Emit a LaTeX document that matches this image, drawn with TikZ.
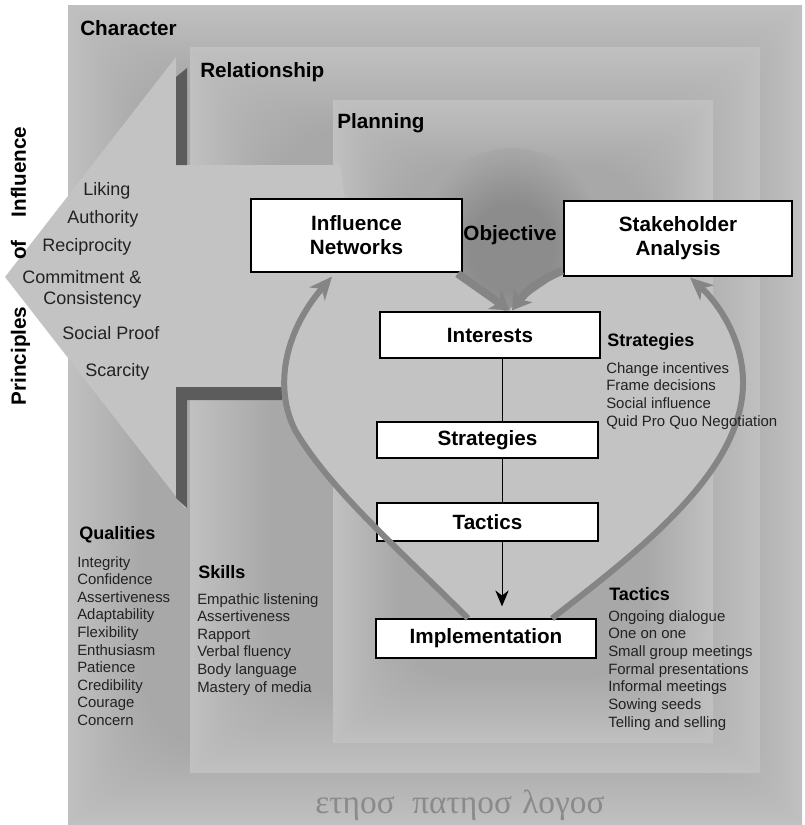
\documentclass[tikz,border=0pt]{standalone}
\usepackage{fontspec}
\setmainfont{Liberation Sans}
\newfontfamily\greekfont{Liberation Serif}
\usetikzlibrary{arrows.meta,calc}
\definecolor{clight}{HTML}{C0C0C0}
\definecolor{cdark}{HTML}{A8A8A8}
\definecolor{carrowreg}{HTML}{C3C3C3}
\definecolor{cobj}{HTML}{8C8C8C}
\definecolor{cflow}{HTML}{858585}
\definecolor{chatch}{HTML}{5C5C5C}
\definecolor{ctext}{HTML}{222222}
\definecolor{cgreek}{HTML}{8A8A8A}
\pgfdeclareradialshading{objshade}{\pgfpoint{0bp}{0bp}}{color(0bp)=(cobj); color(11bp)=(cobj); color(25bp)=(cdark); color(50bp)=(cdark)}
\newcommand{\glowpanel}[5]{%
 \foreach \k in {0,...,24}{%
   \pgfmathsetmacro{\ins}{#5*\k/24}%
   \pgfmathsetmacro{\pc}{100-100*\k/24}%
   \pgfmathsetmacro{\rad}{max(0.01,0.75*\ins)}%
   \fill[clight!\pc!cdark, rounded corners=\rad pt] ({#1+\ins},{#2+\ins}) rectangle ({#3-\ins},{#4-\ins});
 }%
}
\begin{document}
\begin{tikzpicture}[x=0.75pt,y=-0.75pt,
  lbl/.style={anchor=base west,inner sep=0pt,font=\bfseries\fontsize{15.5}{18}\selectfont,text=black},
  prin/.style={anchor=base west,inner sep=0pt,font=\fontsize{13.5}{16}\selectfont,text=ctext},
  side/.style={anchor=base,rotate=90,inner sep=0pt,font=\bfseries\fontsize{15.5}{18}\selectfont,text=black},
  head/.style={anchor=base west,inner sep=0pt,font=\bfseries\fontsize{13.5}{16}\selectfont,text=black},
  item/.style={anchor=base west,inner sep=0pt,font=\fontsize{11.2}{13.4}\selectfont,text=ctext},
  box/.style={draw=black,fill=white,line width=0.9pt,inner sep=0pt,align=center,font=\bfseries\fontsize{15.5}{18}\selectfont},
  conn/.style={line width=0.75pt,draw=black},
  flow/.style={draw=cflow,line width=4.5pt,-{Stealth[length=17pt,width=15pt,inset=5pt]}},
  flowthick/.style={draw=cflow,line width=6pt,-{Stealth[length=14pt,width=17pt,inset=4pt]}},
  bar/.style={fill=chatch},
  greek/.style={anchor=base west,inner sep=0pt,font=\greekfont\fontsize{25}{30}\selectfont,text=cgreek}
]
\useasboundingbox (0,0) rectangle (804,825);
\fill[white] (0,0) rectangle (804,825);
% panels
\glowpanel{68}{5}{802}{825}{75}
\glowpanel{190}{47}{760}{773}{80}
\glowpanel{333}{100}{713}{743}{65}
% objective dark region
\shade[shading=objshade] (512,248) ellipse [x radius=95, y radius=100];
% light region: principles arrow and heart interior
\fill[carrowreg] (5,277) -- (176,57) -- (176,165) -- (340,165) -- (345,199) -- (460,199) -- (460,272) -- (505,312) -- (566,270) -- (690,277)
  .. controls (715,300) and (742,335) .. (743,380)
  .. controls (745,470) and (640,550) .. (552,619)
  -- (468,619) .. controls (400,550) and (330,490) .. (295,430)
  .. controls (290,420) and (286,410) .. (285,398)
  -- (187,398) -- (187,508) -- (185,508) -- cycle;
% hatched bars
\fill[bar] (176,77) -- (187,68) -- (187,165) -- (176,165) -- cycle;
\fill[bar] (176,387) -- (282,387) -- (282,400) -- (187,400) -- (187,508) -- (176,498) -- cycle;
% panel titles
\node[lbl] (tchar) at (80,35) {Character};
\node[lbl] (trel) at (200,77) {Relationship};
\node[lbl] (tplan) at (337,128) {Planning};
% principles
\node[side] (pw1) at (26,356) {Principles};
\node[side] (pw2) at (26,250) {of};
\node[side] (pw3) at (26,172) {Influence};
\node[prin] (p1) at (83,195) {Liking};
\node[prin] (p2) at (67,223) {Authority};
\node[prin] (p3) at (42,251) {Reciprocity};
\node[prin] (p4) at (22,283) {Commitment \&};
\node[prin] (p5) at (43,304) {Consistency};
\node[prin] (p6) at (62,339) {Social Proof};
\node[prin] (p7) at (85,376) {Scarcity};
% boxes
\node[box,minimum width=158.25pt,minimum height=54.75pt] (infl) at (356.5,235.5) {Influence\\Networks};
\node[box,minimum width=171pt,minimum height=56.25pt] (stake) at (678,238.5) {Stakeholder\\Analysis};
\node[box,minimum width=165pt,minimum height=34.5pt] (interest) at (490,335) {Interests};
\node[box,minimum width=165.75pt,minimum height=27pt] (strat) at (487.5,440) {Strategies};
\node[box,minimum width=165.75pt,minimum height=28.5pt] (tact) at (487.5,522) {Tactics};
\node[box,minimum width=165pt,minimum height=29.25pt] (impl) at (486,638.5) {Implementation};
\node[anchor=base,inner sep=0pt,font=\bfseries\fontsize{15.5}{18}\selectfont] (obj) at (510,240) {Objective};
% connectors
\coordinate (axis) at (502,0);
\draw[conn] (interest.south -| axis) -- (strat.north -| axis);
\draw[conn] (strat.south -| axis) -- (tact.north -| axis);
\draw[conn,-{Stealth[length=12pt,width=10pt]},shorten >=9pt] (tact.south -| axis) -- (impl.north -| axis);
% thick arrows to interests
\draw[flowthick] ($(infl.south east)+(-5,1)$) -- ($(interest.north)+(20,-1)$);
\draw[flowthick] ($(stake.south west)+(-1,-6)$) to[bend right=15] ($(interest.north)+(22,-1)$);
% heart curves
\draw[flow] ($(impl.north)+(-18,0)$) .. controls (400,550) and (330,490) .. (295,430) .. controls (275,390) and (282,335) .. ($(infl.south)+(-24.5,4)$);
\draw[flow] ($(impl.north)+(66,0)$) .. controls (640,550) and (745,470) .. (743,380) .. controls (742,335) and (715,300) .. ($(stake.south)+(12,1)$);
% strategies list
\node[head] (hstrat) at (607,346) {Strategies};
\foreach \t [count=\i] in {Change incentives,Frame decisions,Social influence,Quid Pro Quo Negotiation}
  \node[item] (s\i) at (606,{373+17.7*(\i-1)}) {\t};
% tactics list
\node[head] (htact) at (609,600) {Tactics};
\foreach \t [count=\i] in {Ongoing dialogue,One on one,Small group meetings,Formal presentations,Informal meetings,Sowing seeds,Telling and selling}
  \node[item] (t\i) at (608,{621+17.7*(\i-1)}) {\t};
% qualities
\node[head] (hqual) at (79,539) {Qualities};
\foreach \t [count=\i] in {Integrity,Confidence,Assertiveness,Adaptability,Flexibility,Enthusiasm,Patience,Credibility,Courage,Concern}
  \node[item] (q\i) at (77,{567+17.6*(\i-1)}) {\t};
% skills
\node[head] (hskill) at (198,578) {Skills};
\foreach \t [count=\i] in {Empathic listening,Assertiveness,Rapport,Verbal fluency,Body language,Mastery of media}
  \node[item] (k\i) at (197,{604+17.6*(\i-1)}) {\t};
% greek
\node[greek] (g1) at (315,813) {ετηοσ};
\node[greek] (g2) at (412,813) {πατηοσ};
\node[greek] (g3) at (522,813) {λογοσ};
\end{tikzpicture}
\end{document}
